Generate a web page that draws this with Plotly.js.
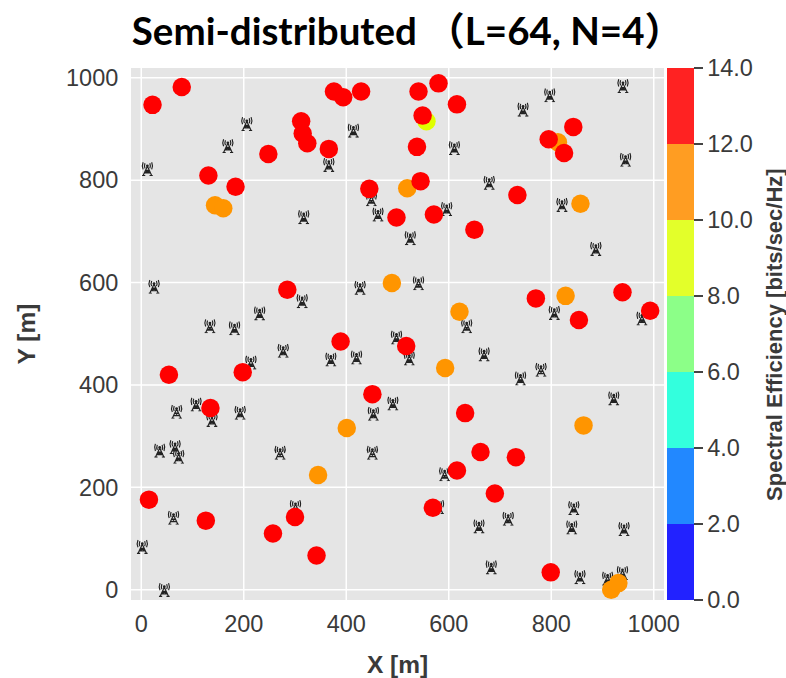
<!DOCTYPE html>
<html>
<head>
<meta charset="utf-8">
<script src="https://cdn.plot.ly/plotly-3.0.1.min.js"></script>
<style>html,body{margin:0;padding:0;background:#fff}#g{width:786px;height:678px}</style>
</head>
<body>
<div id="g"></div>
<script>
// Users: lower efficiency drawn first
const userX = [144,160,489,519,593,401,345,863,621,813,857,828,917,931,556.5,
  22,79,376,394,429,312,315,324,366,248,131,184,445,285,389,498,
  580,541,616,549,538,545,571,650,734,795,825,843,770,854,939,993,517,
  54,198,135,451,15,126,300,257,342,632,662,731,616,690,569,799];
const userY = [751,745,599,784,433,316,224,321,543,874,754,574,0,13,915,
  947,982,973,962,973,915,891,872,861,851,809,787,783,586,485,727,
  989,973,948,926,865,798,733,703,771,880,853,904,569,527,581,545,476,
  420,425,355,382,176,135,142,110,67,345,269,259,233,188,160,34];
const userSE = [11,11,11,11,11,11,11,11,11,11,11,11,11,11,9,
  13,13,13,13,13,13,13,13,13,13,13,13,13,13,13,13,
  13,13,13,13,13,13,13,13,13,13,13,13,13,13,13,13,13,
  13,13,13,13,13,13,13,13,13,13,13,13,13,13,13,13];
// Base stations
const towerX = [12,206,169,414,366,449,462,317,25,427,314,231,134,182,277,370,420,214,498,
  940,797,745,611,945,679,821,596,525,887,541,806,977,635,669,523,
  780,740,922,592,844,716,659,840,942,683,856,910,939,580,
  69,107,138,193,36,66,73,271,451,453,491,301,63,2,45];
const towerY = [822,910,867,897,830,763,733,728,592,590,564,540,515,511,467,450,454,444,493,
  984,966,938,863,840,795,752,744,687,666,599,541,530,515,460,452,
  430,413,374,226,160,139,124,122,119,44,25,22,33,162,
  348,362,332,346,272,279,260,268,268,344,364,162,141,84,0];
const bandEdges = [0,2,4,6,8,10,12,14];
const markerColors = ['#0000ff','#0070ff','#00ffd5','#70ff70','#e0ff00','#ff9500','#ff0000'];
const barColors = ['#2222ff','#2288ff','#33ffdd','#8cff88','#e3ff2a','#ff9d22','#ff2222'];
const xTicks = [0,200,400,600,800,1000];
const yTicks = [0,200,400,600,800,1000];
const cbTicks = [0,2,4,6,8,10,12,14];
const mainTitle = 'Semi-distributed （L=64, N=4）';
const cbTitle = 'Spectral Efficiency [bits/sec/Hz]';

function scale(cols){
  const out=[]; const span=bandEdges[bandEdges.length-1];
  cols.forEach((c,i)=>{out.push([bandEdges[i]/span,c]);out.push([bandEdges[i+1]/span,c]);});
  return out;
}
const towerSvg = "<svg xmlns='http://www.w3.org/2000/svg' viewBox='0 0 24 28' fill='none' stroke='#222'>"+
  "<path d='M12 9 L4 27 M12 9 L20 27 M8.5 17 L15.5 17 M6.5 22 L17.5 22 M8.5 17 L17.5 22 M15.5 17 L6.5 22 M2 27 L8 27 M16 27 L22 27' stroke-width='2.2'/>"+
  "<circle cx='12' cy='8' r='2.6' fill='#222' stroke='none'/>"+
  "<path d='M7.5 3 Q5.5 8 7.5 13 M16.5 3 Q18.5 8 16.5 13 M4 1 Q1 8 4 15 M20 1 Q23 8 20 15' stroke-width='2.2'/></svg>";
const towerUri = 'data:image/svg+xml;utf8,'+encodeURIComponent(towerSvg);
const images = towerX.map((x,i)=>({source:towerUri,xref:'x',yref:'y',x:x,y:towerY[i],sizex:25,sizey:28,
  xanchor:'center',yanchor:'middle',sizing:'stretch',layer:'below'}));
// Gridlines sit below the tower images, so they are layer-below shapes tied to the axes
const gridLine={color:'#fff',width:1.5};
const shapes = xTicks.map(v=>({type:'line',layer:'below',xref:'x',yref:'paper',x0:v,x1:v,y0:0,y1:1,line:gridLine}))
  .concat(yTicks.map(v=>({type:'line',layer:'below',xref:'paper',yref:'y',x0:0,x1:1,y0:v,y1:v,line:gridLine})));

const font='"Liberation Sans",Arial,sans-serif';
const traces=[
 {type:'scatter',mode:'markers',x:userX,y:userY,hoverinfo:'x+y',showlegend:false,
  marker:{size:18.5,color:userSE,cmin:0,cmax:14,colorscale:scale(markerColors),showscale:false,line:{width:0}}},
 {type:'scatter',mode:'markers',x:[null],y:[null],showlegend:false,hoverinfo:'skip',
  marker:{size:1,color:[7],cmin:0,cmax:14,colorscale:scale(barColors),showscale:true,
   colorbar:{thickness:27,thicknessmode:'pixels',len:1,lenmode:'fraction',x:1.0056,xanchor:'left',xpad:0,y:0,yanchor:'bottom',ypad:0,
    outlinewidth:0,ticks:'outside',ticklen:9,tickwidth:1.5,tickcolor:'#444',tickvals:cbTicks,ticktext:cbTicks.map(v=>v.toFixed(1)),
    tickfont:{family:font,size:23.5,color:'#3a3a3a'}}}}
];
const axis=(ticks,range,title,standoff,pad)=>({range:range,tickvals:ticks,ticktext:ticks.map(String),showgrid:false,
  zeroline:false,showline:false,ticks:'outside',ticklen:pad,tickcolor:'rgba(0,0,0,0)',tickfont:{family:font,size:23.5,color:'#3a3a3a'},automargin:false,
  title:{text:'<b>'+title+'</b>',standoff:standoff,font:{family:font,size:24.5,color:'#3a3a3a'}}});
const layout={width:786,height:678,margin:{l:130.5,r:122,t:68,b:78,pad:0},paper_bgcolor:'#fff',plot_bgcolor:'#e5e5e5',
  showlegend:false,images:images,shapes:shapes,
  annotations:[{text:'<b>'+cbTitle+'</b>',textangle:-90,xref:'paper',yref:'paper',x:(774-130.5)/533.5,y:0.5,
    xanchor:'center',yanchor:'middle',showarrow:false,font:{family:font,size:22,color:'#3a3a3a'}}],
  title:{text:'<b>'+mainTitle+'</b>',x:407.4/786,xanchor:'center',xref:'container',y:1-32/678,yanchor:'middle',yref:'container',
    font:{family:'Lato,"Noto Sans CJK SC",sans-serif',size:38.5,color:'#000'}},
  xaxis:axis(xTicks,[-20,1020],'X [m]',40,3),
  yaxis:axis(yTicks,[-20,1019],'Y [m]',23,7)};
Plotly.newPlot('g',traces,layout,{displayModeBar:false,staticPlot:true});
</script>
</body>
</html>
